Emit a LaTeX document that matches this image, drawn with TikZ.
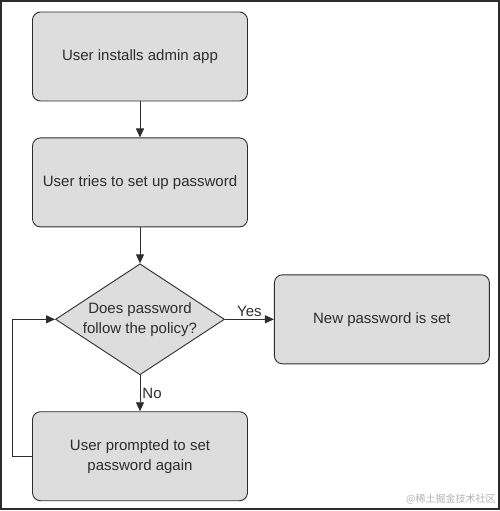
\documentclass[tikz,border=0pt]{standalone}
\usepackage{fontspec}
\setmainfont{Liberation Sans}
\newfontfamily\cjkfont{Noto Sans CJK SC}
\usetikzlibrary{arrows.meta,positioning,shapes.geometric}
\definecolor{boxgray}{RGB}{221,221,221}
\definecolor{linegray}{RGB}{45,45,45}

\begin{document}
\begin{tikzpicture}[x=1pt,y=-1pt,>={Triangle[length=9pt,width=8pt]},node distance=36pt and 49pt,
  color=linegray,line width=0.9pt,
  box/.style={draw=linegray,fill=boxgray,rounded corners=8pt,align=center,font=\fontsize{15}{20}\selectfont,minimum width=215pt,minimum height=89pt,inner sep=0pt},
  dec/.style={draw=linegray,fill=boxgray,diamond,aspect=1.52,align=center,font=\fontsize{15}{20}\selectfont,minimum width=169pt,minimum height=111pt,inner sep=0pt},
  lbl/.style={font=\fontsize{15}{18}\selectfont,inner sep=2pt}]
\useasboundingbox (0,0) rectangle (500,511);
\draw[line width=1.5pt] (1,1) rectangle (499,509);
\node[box] (install) at (140,56.5) {User installs admin app};
\node[box,below=of install] (setup) {User tries to set up password};
\node[dec,below=of setup] (policy) {Does password\\follow the policy?};
\node[box,right=of policy] (done) {New password is set};
\node[box,below=of policy] (retry) {User prompted to set\\password again};
\draw[->] (install)--(setup); \draw[->] (setup)--(policy);
\draw[->] (policy)--node[above,lbl]{Yes}(done);
\draw[->] (policy)--node[right,lbl]{No}(retry);
\draw[->] (retry.west)--++(-20,0)|-(policy.west);
\node[font=\cjkfont\fontsize{10}{12}\selectfont,text=black!30,anchor=south east,inner sep=0pt] (mark) at (496,505) {@稀土掘金技术社区};
\end{tikzpicture}
\end{document}
